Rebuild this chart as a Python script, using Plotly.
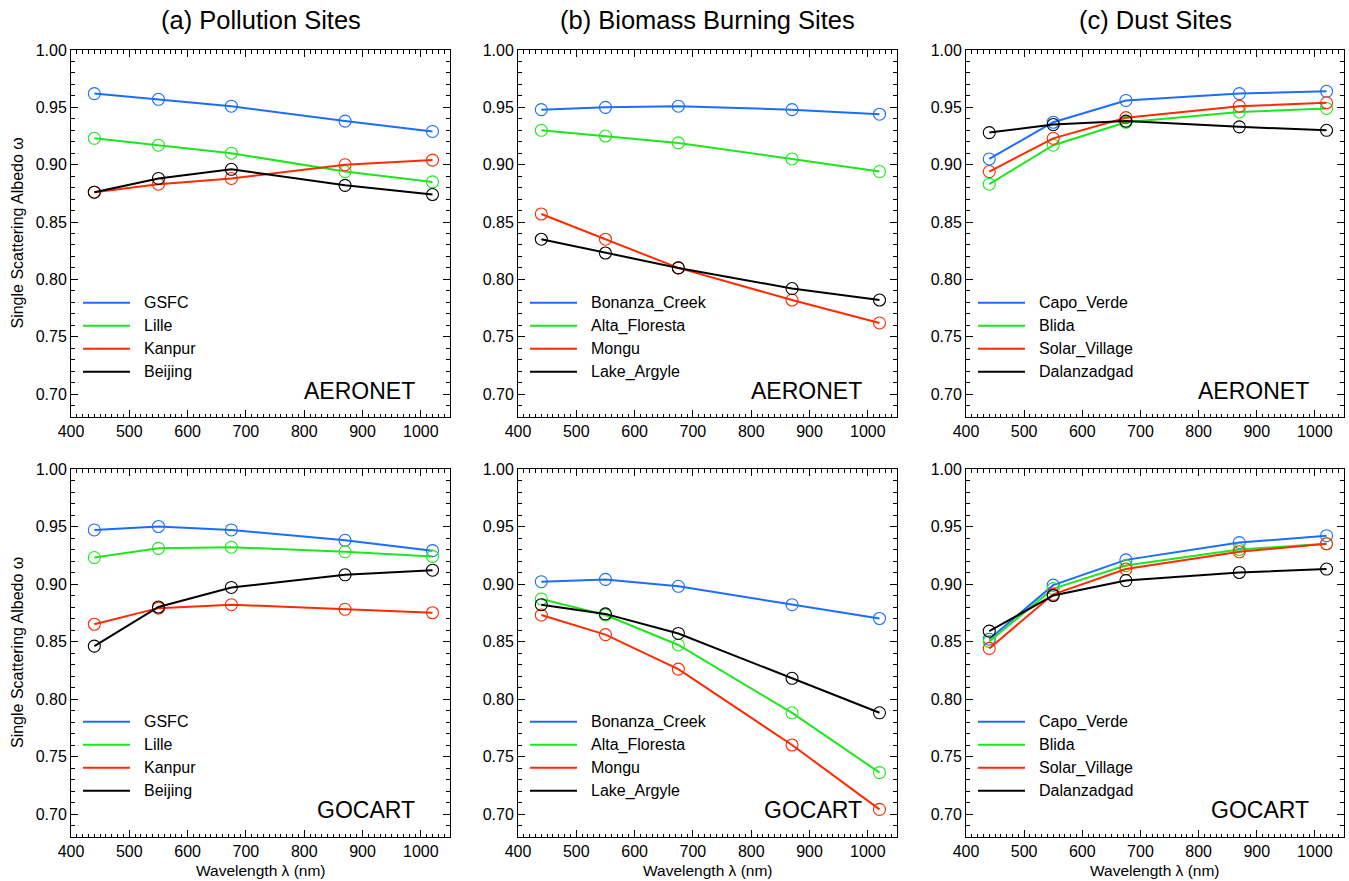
import plotly.graph_objects as go

# Wavelengths (nm) at which single scattering albedo is reported
wavelengths = [440, 550, 675, 870, 1020]

panel_titles = ["(a) Pollution Sites", "(b) Biomass Burning Sites", "(c) Dust Sites"]
row_labels = ["AERONET", "GOCART"]

pollution_sites = ["GSFC", "Lille", "Kanpur", "Beijing"]
biomass_sites = ["Bonanza_Creek", "Alta_Floresta", "Mongu", "Lake_Argyle"]
dust_sites = ["Capo_Verde", "Blida", "Solar_Village", "Dalanzadgad"]

# AERONET retrievals
aeronet_pollution = [
    [0.962, 0.957, 0.951, 0.938, 0.929],
    [0.923, 0.917, 0.910, 0.894, 0.885],
    [0.876, 0.883, 0.888, 0.900, 0.904],
    [0.876, 0.888, 0.896, 0.882, 0.874],
]
aeronet_biomass = [
    [0.948, 0.950, 0.951, 0.948, 0.944],
    [0.930, 0.925, 0.919, 0.905, 0.894],
    [0.857, 0.835, 0.810, 0.782, 0.762],
    [0.835, 0.823, 0.810, 0.792, 0.782],
]
aeronet_dust = [
    [0.905, 0.937, 0.956, 0.962, 0.964],
    [0.883, 0.917, 0.937, 0.946, 0.949],
    [0.894, 0.923, 0.941, 0.951, 0.954],
    [0.928, 0.935, 0.938, 0.933, 0.930],
]

# GOCART model values
gocart_pollution = [
    [0.947, 0.950, 0.947, 0.938, 0.929],
    [0.923, 0.931, 0.932, 0.928, 0.924],
    [0.865, 0.879, 0.882, 0.878, 0.875],
    [0.846, 0.880, 0.897, 0.908, 0.912],
]
gocart_biomass = [
    [0.902, 0.904, 0.898, 0.882, 0.870],
    [0.887, 0.873, 0.847, 0.788, 0.736],
    [0.873, 0.856, 0.826, 0.760, 0.704],
    [0.882, 0.874, 0.857, 0.818, 0.788],
]
gocart_dust = [
    [0.852, 0.899, 0.921, 0.936, 0.942],
    [0.850, 0.896, 0.916, 0.930, 0.935],
    [0.844, 0.891, 0.913, 0.928, 0.935],
    [0.859, 0.890, 0.903, 0.910, 0.913],
]

series_colors = ["#1a6dff", "#1ee61e", "#ff2a00", "#000000"]

W, H = 1349, 881
col_px = [(71, 450), (518, 897), (966, 1344)]
row_px = [(50, 417), (469, 837)]

sites = [pollution_sites, biomass_sites, dust_sites]
data = [
    [aeronet_pollution, aeronet_biomass, aeronet_dust],
    [gocart_pollution, gocart_biomass, gocart_dust],
]

FONT = "Liberation Sans, Arial, Helvetica, sans-serif"

fig = go.Figure()
layout = dict(
    template="none",
    width=W, height=H,
    margin=dict(l=0, r=0, t=0, b=0, pad=0),
    paper_bgcolor="white", plot_bgcolor="white",
    showlegend=False,
    font=dict(family=FONT, color="black"),
)
annotations = []
shapes = []

for r in range(2):
    for c in range(3):
        idx = r * 3 + c + 1
        xa = "xaxis" if idx == 1 else f"xaxis{idx}"
        ya = "yaxis" if idx == 1 else f"yaxis{idx}"
        xr = "x" if idx == 1 else f"x{idx}"
        yr = "y" if idx == 1 else f"y{idx}"
        x0, x1 = col_px[c]
        top, bot = row_px[r]
        layout[xa] = dict(
            domain=[x0 / W, x1 / W], anchor=yr, automargin=False,
            range=[400, 1050], tickvals=[400, 500, 600, 700, 800, 900, 1000],
            ticks="inside", ticklen=7, tickwidth=1, tickcolor="black",
            showline=True, linecolor="black", linewidth=1, mirror="allticks",
            showgrid=False, zeroline=False,
            tickfont=dict(size=16, family=FONT, color="black"),
            minor=dict(dtick=10, tick0=400, ticks="inside", ticklen=3.5,
                       tickwidth=1, tickcolor="black", showgrid=False),
        )
        layout[ya] = dict(
            domain=[1 - bot / H, 1 - top / H], anchor=xr, automargin=False,
            range=[0.68, 1.0], tickvals=[0.70, 0.75, 0.80, 0.85, 0.90, 0.95, 1.00],
            tickformat=".2f",
            ticks="inside", ticklen=7, tickwidth=1, tickcolor="black",
            showline=True, linecolor="black", linewidth=1, mirror="allticks",
            showgrid=False, zeroline=False,
            tickfont=dict(size=16, family=FONT, color="black"),
            minor=dict(dtick=0.01, tick0=0.70, ticks="inside", ticklen=4,
                       tickwidth=1, tickcolor="black", showgrid=False),
        )
        for k, name in enumerate(sites[c]):
            fig.add_trace(go.Scatter(
                x=wavelengths, y=data[r][c][k], name=name,
                mode="lines+markers", xaxis=xr, yaxis=yr,
                line=dict(color=series_colors[k], width=2),
                marker=dict(symbol="circle-open", size=12,
                            color=series_colors[k], line=dict(width=1.1)),
            ))
            # legend sample line and label inside the panel
            ly = (bot - (top + 252.7 + 23 * k)) / (bot - top)
            shapes.append(dict(
                type="line", xref=f"{xr} domain", yref=f"{yr} domain",
                x0=12 / (x1 - x0), x1=59 / (x1 - x0), y0=ly, y1=ly,
                line=dict(color=series_colors[k], width=2),
            ))
            annotations.append(dict(
                text=name, xref=f"{xr} domain", yref=f"{yr} domain",
                x=71 / (x1 - x0), y=ly, xanchor="left", yanchor="middle",
                showarrow=False, font=dict(size=16, family=FONT, color="black"),
            ))
        annotations.append(dict(
            text=row_labels[r], xref=f"{xr} domain", yref=f"{yr} domain",
            x=1 - 33 / (x1 - x0), y=(bot - (top + 341)) / (bot - top),
            xanchor="right", yanchor="middle", showarrow=False,
            font=dict(size=23, family=FONT, color="black"),
        ))

# Column titles
for c, title in enumerate(panel_titles):
    x0, x1 = col_px[c]
    annotations.append(dict(
        text=title, xref="paper", yref="paper",
        x=(x0 + x1) / 2 / W, y=1 - 20 / H, xanchor="center", yanchor="middle",
        showarrow=False, font=dict(size=25.5, family=FONT, color="black"),
    ))

# Axis titles
for r in range(2):
    top, bot = row_px[r]
    annotations.append(dict(
        text="Single Scattering Albedo ω", xref="paper", yref="paper",
        x=17 / W, y=1 - (top + bot) / 2 / H, textangle=-90,
        xanchor="center", yanchor="middle", showarrow=False,
        font=dict(size=16, family=FONT, color="black"),
    ))
for c in range(3):
    x0, x1 = col_px[c]
    annotations.append(dict(
        text="Wavelength λ (nm)", xref="paper", yref="paper",
        x=(x0 + x1) / 2 / W, y=1 - 870 / H, xanchor="center", yanchor="middle",
        showarrow=False, font=dict(size=15.5, family=FONT, color="black"),
    ))

layout["annotations"] = annotations
layout["shapes"] = shapes
fig.update_layout(**layout)
fig.write_html("out.html")
